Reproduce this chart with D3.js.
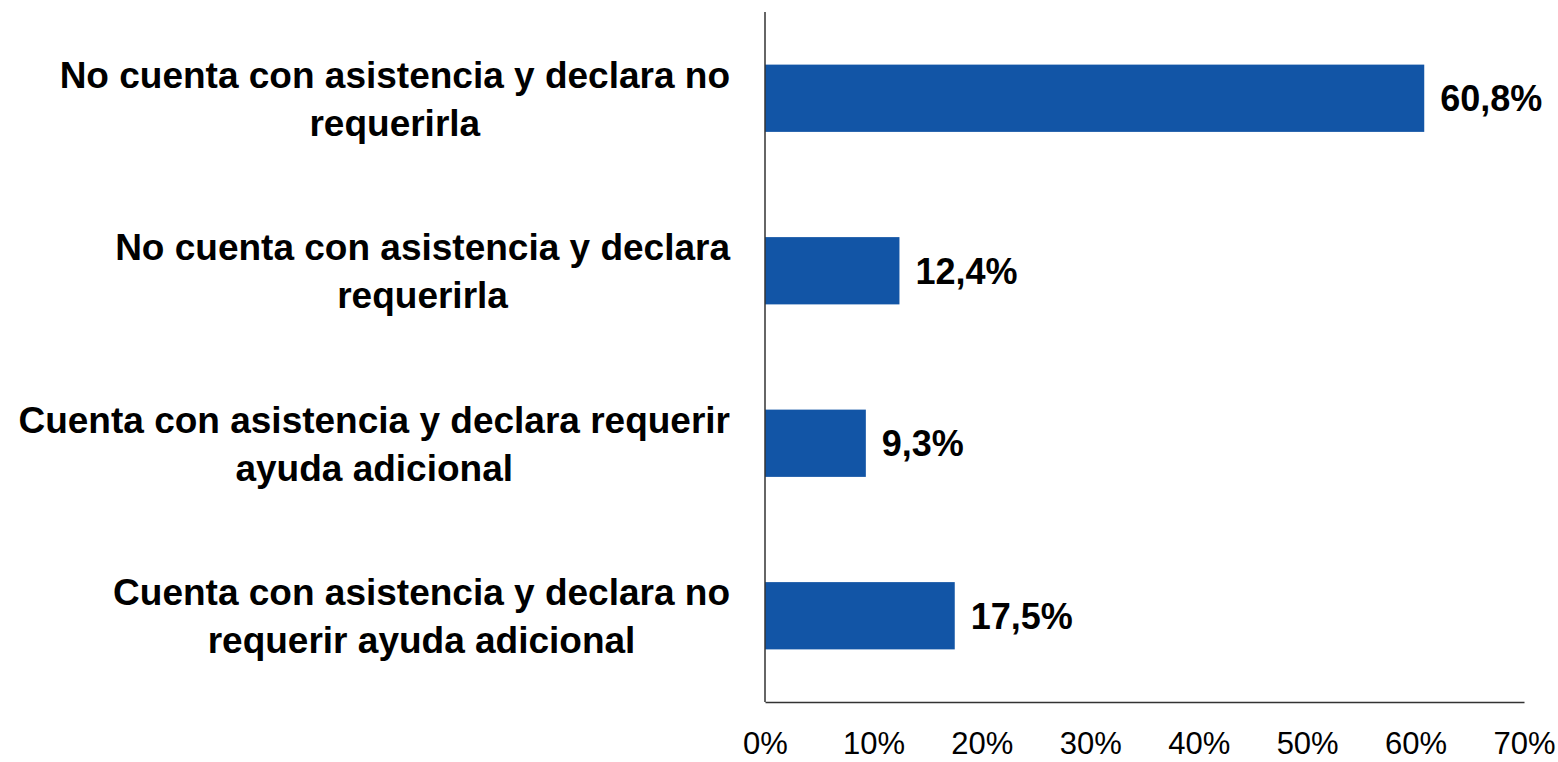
<!DOCTYPE html>
<html>
<head>
<meta charset="utf-8">
<script src="https://cdn.jsdelivr.net/npm/d3@7"></script>
<style>
body { margin: 0; background: #fff; }
text { font-family: "Liberation Sans", Arial, sans-serif; fill: #000; }
.cat { font-weight: bold; font-size: 37px; }
.val { font-weight: bold; font-size: 36px; }
.tick text { font-size: 31px; }
</style>
</head>
<body>
<svg id="chart"></svg>
<script>
// DATA
var categories = [
	["No cuenta con asistencia y declara no", "requerirla"],
	["No cuenta con asistencia y declara", "requerirla"],
	["Cuenta con asistencia y declara requerir", "ayuda adicional"],
	["Cuenta con asistencia y declara no", "requerir ayuda adicional"]
];
var values = [60.8, 12.4, 9.3, 17.5];
var valueLabels = ["60,8%", "12,4%", "9,3%", "17,5%"];
var tickValues = [0, 10, 20, 30, 40, 50, 60, 70];

// SIZING
var W = 1558, H = 762;
var margin = {top: 12, right: 34, bottom: 60, left: 765};
var width = W - margin.left - margin.right;
var height = H - margin.top - margin.bottom;

var svg = d3.select("#chart").attr("width", W).attr("height", H);
var g = svg.append("g")
	.attr("transform", "translate(" + margin.left + "," + margin.top + ")");

var x = d3.scaleLinear().domain([0, 70]).range([0, width]);
var y = d3.scaleBand().domain(d3.range(categories.length)).range([0, height]).paddingInner(0.61).paddingOuter(0.305);

// BARS
g.selectAll(".bar")
	.data(values)
	.enter().append("rect")
	.attr("class", "bar")
	.attr("x", 0)
	.attr("y", function(d, i) { return y(i); })
	.attr("width", function(d) { return x(d); })
	.attr("height", y.bandwidth())
	.style("fill", "#1255a6");

// VALUE LABELS
g.selectAll(".val")
	.data(values)
	.enter().append("text")
	.attr("class", "val")
	.attr("x", function(d) { return x(d) + 16; })
	.attr("y", function(d, i) { return y(i) + y.bandwidth() / 2; })
	.attr("dy", "0.36em")
	.text(function(d, i) { return valueLabels[i]; });

// X AXIS
var xAxis = g.append("g")
	.attr("class", "tick-axis")
	.attr("transform", "translate(0," + height + ")")
	.call(d3.axisBottom(x).tickValues(tickValues).tickSize(0).tickPadding(30)
		.tickFormat(function(d) { return d + "%"; }));
xAxis.select(".domain").attr("stroke", "#333").attr("stroke-width", 1.5);
xAxis.selectAll("text").attr("font-family", null).attr("font-size", null).attr("dy", "0.71em");

// Y AXIS LINE
g.append("line")
	.attr("x1", 0).attr("x2", 0)
	.attr("y1", 0).attr("y2", height)
	.attr("stroke", "#333").attr("stroke-width", 1.5);

// CATEGORY LABELS (right edge of first line ~730, lines centred together)
var catG = svg.append("g");
categories.forEach(function(lines, i) {
	var cy = margin.top + y(i) + y.bandwidth() / 2;
	var t = catG.append("text").attr("class", "cat").attr("text-anchor", "middle");
	lines.forEach(function(line, j) {
		t.append("tspan")
			.attr("x", 0)
			.attr("y", cy + (j - (lines.length - 1) / 2) * 48)
			.attr("dy", "0.36em")
			.text(line);
	});
	var w0 = t.select("tspan").node().getComputedTextLength();
	t.selectAll("tspan").attr("x", 730 - w0 / 2);
});
</script>
</body>
</html>
